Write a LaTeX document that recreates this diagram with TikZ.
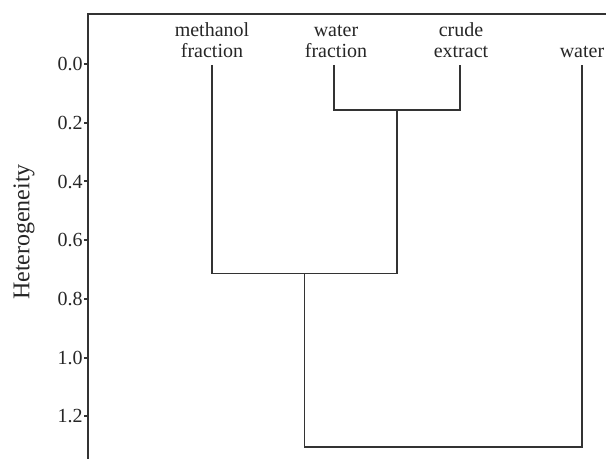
\documentclass[tikz,border=0pt]{standalone}
\usepackage{fontspec}
\setmainfont{Liberation Serif}
\begin{document}
\begin{tikzpicture}[x=0.5pt,y=-0.5pt]

	\tikzstyle{frame}=[draw=black!80,line width=1pt]
	\tikzstyle{tree}=[draw=black!80,line width=0.9pt]
	\tikzstyle{leaf}=[anchor=south,inner sep=0pt,align=center,text=black!85,font=\fontsize{10}{10.2}\selectfont]
	\tikzstyle{ticklab}=[anchor=east,inner sep=0pt,text=black!85,font=\fontsize{10}{12}\selectfont]

	\useasboundingbox (0,0) rectangle (606,459);

	% axis
	\draw[frame] (606,14) -- (88,14) -- (88,459);
	\foreach \v in {0.0,0.2,0.4,0.6,0.8,1.0,1.2}{
		\draw[frame] (84,64+\v*293.75) -- (88,64+\v*293.75);
		\node[ticklab] at (83,64+\v*293.75) {\v};
	}
	\node[rotate=90,text=black!85,font=\fontsize{12}{14}\selectfont] (ylab) at (24,232) {Heterogeneity};

	% leaves
	\node[leaf] (mf) at (212,58) {methanol\\fraction};
	\node[leaf] (wf) at (336,58) {water\\fraction};
	\node[leaf] (ce) at (461,58) {crude\\extract};
	\node[leaf] (wa) at (582,58) {water};

	\coordinate (mf-top) at (212,65);
	\coordinate (wf-top) at (334,65);
	\coordinate (ce-top) at (460,65);
	\coordinate (wa-top) at (582,65);

	% joins
	\coordinate (j1) at (397,110);
	\coordinate (j2) at (304.5,273.5);
	\coordinate (j3) at (443,447);

	\draw[tree] (wf-top) |- (j1) -| (ce-top);
	\draw[tree] (mf-top) |- (j2) -| (j1);
	\draw[tree] (j2) |- (j3) -| (wa-top);

\end{tikzpicture}
\end{document}
